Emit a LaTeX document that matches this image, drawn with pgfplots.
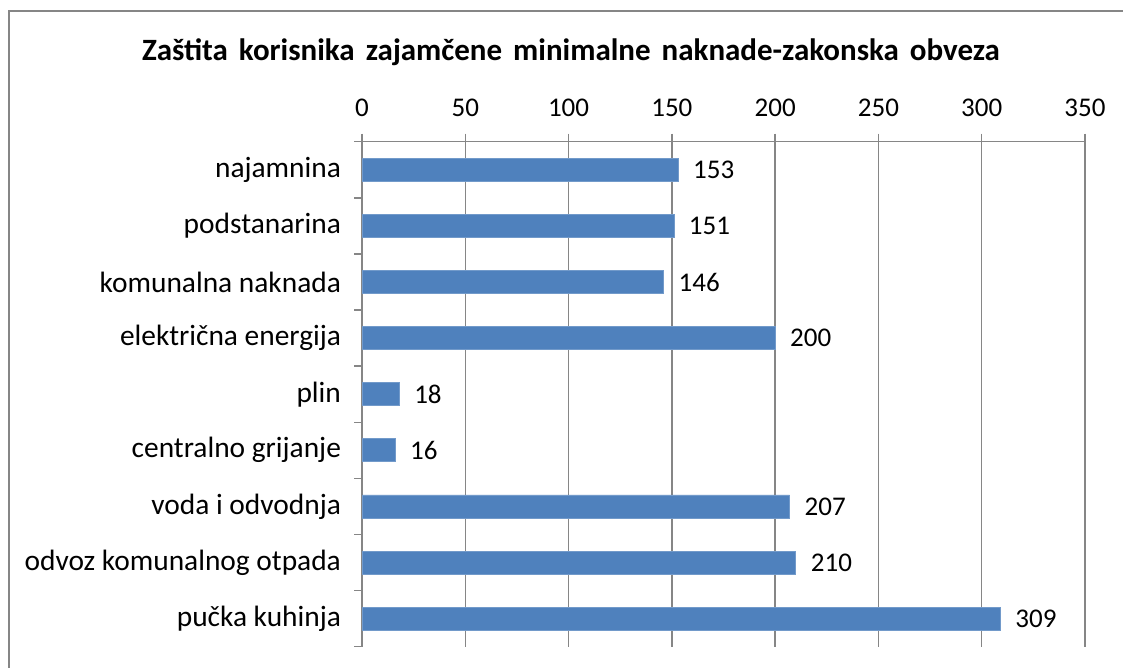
\documentclass[border=0pt]{standalone}
\usepackage{fontspec}
\setmainfont{Carlito}
\usepackage{pgfplots}
\pgfplotsset{compat=1.18}
\definecolor{barblue}{HTML}{4F81BD}
\definecolor{gridgray}{HTML}{868686}
\begin{document}
\begin{tikzpicture}
\useasboundingbox (0,0) rectangle (561.5pt,334pt);
\draw[gridgray, line width=1pt] (4.5pt,-2pt) -- (4.5pt,328.5pt) -- (565pt,328.5pt);
\node[font=\fontsize{15.5}{18}\selectfont\bfseries] at (285.5pt,308pt)
  {\spaceskip=5.5pt Zaštita korisnika zajamčene minimalne naknade-zakonska obveza};
\begin{axis}[
  at={(181pt,10.65pt)}, anchor=south west,
  width=361.5pt, height=252.5pt, scale only axis,
  xbar, bar width=11.5pt,
  xmin=0, xmax=350, xtick={0,50,...,350},
  ymin=0.5, ymax=9.5, y dir=reverse,
  ytick={1,...,9},
  yticklabels={najamnina, podstanarina, komunalna naknada, električna energija, plin,
    centralno grijanje, voda i odvodnja, odvoz komunalnog otpada, pučka kuhinja},
  axis x line*=top, axis y line*=left,
  axis line style={draw=gridgray, -},
  xmajorgrids, grid style={gridgray, line width=0.7pt},
  tick align=outside,
  major tick length=4pt,
  tick style={gridgray, line width=0.7pt},
  ytick style={draw=none},
  extra y ticks={0.5,1.5,...,9.5}, extra y tick labels={},
  extra y tick style={ytick style={draw=gridgray}, grid=none},
  tick label style={font=\fontsize{13.5}{16}\selectfont},
  /pgf/number format/assume math mode=true,
  xticklabel style={yshift=5pt},
  yticklabel style={anchor=east, xshift=-3pt, font=\fontsize{14.7}{17}\selectfont},
  nodes near coords,
  every node near coord/.append style={font=\fontsize{13.5}{16}\selectfont, anchor=west, xshift=4pt},
]
\addplot[fill=barblue, draw=barblue!80!white] coordinates {
  (153,1) (151,2) (146,3) (200,4) (18,5) (16,6) (207,7) (210,8) (309,9)
};
\end{axis}
\end{tikzpicture}
\end{document}
